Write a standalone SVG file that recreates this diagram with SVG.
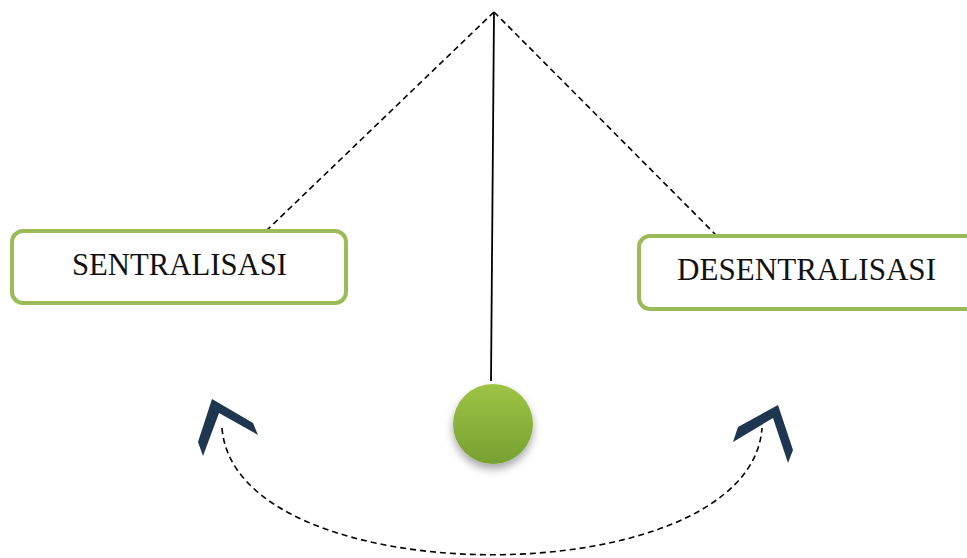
<svg xmlns="http://www.w3.org/2000/svg" width="967" height="558" viewBox="0 0 967 558">
<style>
.box{fill:#fff;stroke:#9bbb59;stroke-width:4}
.lbl{font-family:"Liberation Serif","DejaVu Serif",serif;font-size:31px;fill:#111;text-anchor:middle}
.dash{fill:none;stroke:#000;stroke-width:1.6;stroke-dasharray:6 4}
.solid{fill:none;stroke:#000;stroke-width:1.8}
.chev{fill:#1e3650}
</style>
<defs>
<linearGradient id="ball" x1="0" y1="0" x2="0" y2="1">
<stop offset="0" stop-color="#9ec444"/>
<stop offset="1" stop-color="#77a032"/>
</linearGradient>
<filter id="sh" x="-30%" y="-30%" width="160%" height="170%">
<feDropShadow dx="0" dy="5" stdDeviation="4" flood-color="#000" flood-opacity="0.35"/>
</filter>
</defs>
<rect width="967" height="558" fill="#fff"/>
<g id="connectors">
<line class="dash" x1="494" y1="12" x2="265" y2="232"/>
<line class="dash" x1="494" y1="12" x2="718" y2="237"/>
<line class="solid" x1="494" y1="12" x2="491" y2="381"/>
<path class="dash" d="M222 428 C235 597 750 597 762 428"/>
</g>
<g id="sentralisasi">
<rect class="box" x="12" y="231" width="334" height="72" rx="11"/>
<text class="lbl" x="179.5" y="275" textLength="215" lengthAdjust="spacingAndGlyphs">SENTRALISASI</text>
</g>
<g id="desentralisasi">
<rect class="box" x="639" y="236" width="350" height="73" rx="11"/>
<text class="lbl" x="806.5" y="280" textLength="259" lengthAdjust="spacingAndGlyphs">DESENTRALISASI</text>
</g>
<g id="bandul">
<circle cx="493" cy="424" r="40" fill="url(#ball)" filter="url(#sh)"/>
</g>
<g id="arrow-left">
<polygon class="chev" points="212,399 253,423 258,435 219,413 203,456 198,442"/>
</g>
<g id="arrow-right">
<polygon class="chev" points="778,405 793,450 788,463 773,418 733,442 738,427"/>
</g>
</svg>
